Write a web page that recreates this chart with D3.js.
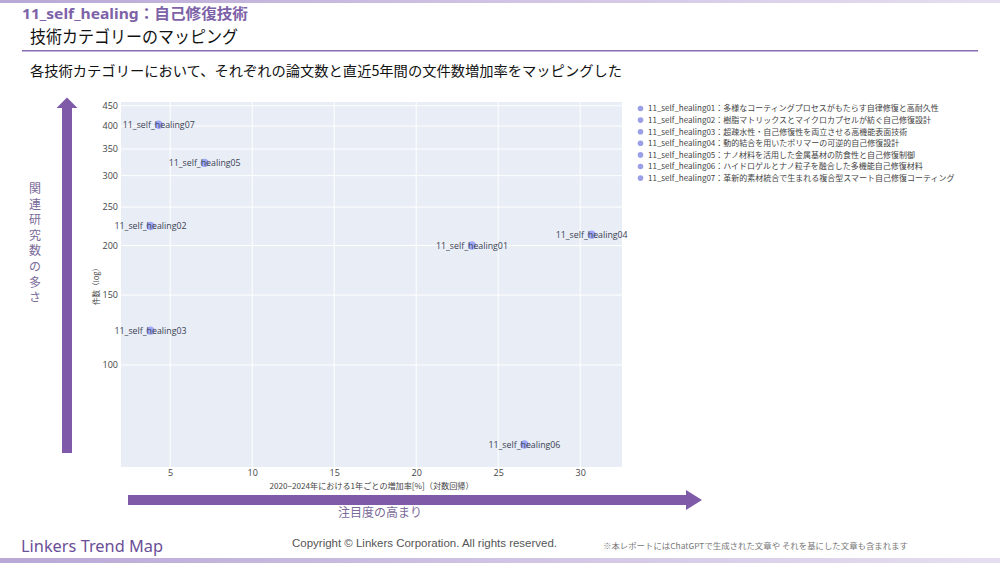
<!DOCTYPE html>
<html><head><meta charset="utf-8">
<script src="https://cdn.jsdelivr.net/npm/d3@7"></script>
<style>
html,body{margin:0;padding:0;background:#fff;}
svg{display:block;font-family:"Noto Sans CJK JP","Noto Sans",sans-serif;}
</style></head>
<body>
<svg id="c" width="1000" height="563"></svg>
<script>
// ---- data ----
const categories = ["11_self_healing01","11_self_healing02","11_self_healing03","11_self_healing04","11_self_healing05","11_self_healing06","11_self_healing07"];
const growthRate = [23.4, 3.8, 3.8, 30.7, 7.1, 26.6, 4.3];
const paperCount = [200, 224, 122, 213, 323, 63, 403];
const descriptions = [
 "多様なコーティングプロセスがもたらす自律修復と高耐久性",
 "樹脂マトリックスとマイクロカプセルが紡ぐ自己修復設計",
 "超疎水性・自己修復性を両立させる高機能表面技術",
 "動的結合を用いたポリマーの可逆的自己修復設計",
 "ナノ材料を活用した金属基材の防食性と自己修復制御",
 "ハイドロゲルとナノ粒子を融合した多機能自己修復材料",
 "革新的素材統合で生まれる複合型スマート自己修復コーティング"
];
const xTicks = [5,10,15,20,25,30];
const yTicks = [100,150,200,250,300,350,400,450];

const svg = d3.select("#c");

// header gradient bars
const defs = svg.append("defs");
const g1 = defs.append("linearGradient").attr("id","topg");
g1.append("stop").attr("offset","0%").attr("stop-color","#b9a8d6");
g1.append("stop").attr("offset","100%").attr("stop-color","#e6def0");
svg.append("rect").attr("x",0).attr("y",0).attr("width",1000).attr("height",3).attr("fill","url(#topg)");
svg.append("rect").attr("x",0).attr("y",558).attr("width",1000).attr("height",5).attr("fill","url(#topg)");

svg.append("text").attr("x",22).attr("y",19).attr("fill","#7d62a8").attr("font-size",15).attr("font-weight","bold")
  .attr("font-family","'Noto Sans','Noto Sans CJK JP',sans-serif")
  .attr("textLength",226).attr("lengthAdjust","spacingAndGlyphs").text("11_self_healing：自己修復技術");
svg.append("text").attr("x",30).attr("y",43).attr("fill","#111").attr("font-size",17.5)
  .attr("textLength",208).attr("lengthAdjust","spacingAndGlyphs").text("技術カテゴリーのマッピング");
svg.append("rect").attr("x",22).attr("y",50).attr("width",956).attr("height",1.5).attr("fill","#8a6db2");
svg.append("text").attr("x",30).attr("y",76).attr("fill","#111").attr("font-size",14)
  .attr("textLength",592).attr("lengthAdjust","spacingAndGlyphs")
  .text("各技術カテゴリーにおいて、それぞれの論文数と直近5年間の文件数増加率をマッピングした");

// plot
const L=121, R=622, T=102, B=467;
const x = d3.scaleLinear().domain([2.0,32.55]).range([L,R]);
const y = d3.scaleLog().domain([55.3,460]).range([B,T]);

svg.append("rect").attr("x",L).attr("y",T).attr("width",R-L).attr("height",B-T).attr("fill","#e8edf6");
const grid = svg.append("g").attr("stroke","#fff").attr("stroke-width",1);
grid.selectAll("line.x").data(xTicks).join("line").attr("x1",d=>x(d)).attr("x2",d=>x(d)).attr("y1",T).attr("y2",B);
grid.selectAll("line.y").data(yTicks).join("line").attr("y1",d=>y(d)).attr("y2",d=>y(d)).attr("x1",L).attr("x2",R);

const xAxis = svg.append("g").attr("transform",`translate(0,${B})`)
  .call(d3.axisBottom(x).tickValues(xTicks).tickSize(0).tickPadding(3));
const yAxis = svg.append("g").attr("transform",`translate(${L},0)`)
  .call(d3.axisLeft(y).tickValues(yTicks).tickFormat(d3.format("d")).tickSize(0).tickPadding(3));
[xAxis,yAxis].forEach(a=>{a.select(".domain").remove();
  a.selectAll("text").attr("fill","#444").attr("font-size",9).attr("font-family","'Open Sans','Noto Sans',sans-serif");});

svg.append("text").attr("transform",`translate(99,${(T+B)/2}) rotate(-90)`).attr("text-anchor","middle")
  .attr("font-size",7.5).attr("fill","#444").text("件数（log）");
svg.append("text").attr("x",(L+R)/2).attr("y",489).attr("text-anchor","middle")
  .attr("font-size",8).attr("fill","#444").attr("textLength",204).attr("lengthAdjust","spacingAndGlyphs")
  .text("2020−2024年における1年ごとの増加率[%]（対数回帰）");

const pts = categories.map((c,i)=>({c, gx:growthRate[i], n:paperCount[i]}));
svg.append("g").selectAll("circle").data(pts).join("circle")
  .attr("cx",d=>x(d.gx)).attr("cy",d=>y(d.n)).attr("r",4.2)
  .attr("fill","#636efa").attr("opacity",0.55);
svg.append("g").selectAll("text").data(pts).join("text")
  .attr("x",d=>x(d.gx)).attr("y",d=>y(d.n)).attr("dy","0.35em").attr("text-anchor","middle")
  .attr("font-size",8.8).attr("fill","#3a4252").attr("font-family","'Open Sans','Noto Sans',sans-serif")
  .text(d=>d.c);

// legend
const lg = svg.append("g");
categories.forEach((c,i)=>{
  const yy = 108.5 + i*11.6;
  lg.append("circle").attr("cx",640.5).attr("cy",yy).attr("r",2.8).attr("fill","#9a9fe6");
  lg.append("text").attr("x",648).attr("y",yy).attr("dy","0.35em").attr("font-size",8).attr("fill","#444")
    .text(c+"："+descriptions[i]);
});

// arrows
const purple="#7f5aa9";
svg.append("rect").attr("x",62).attr("y",107).attr("width",10).attr("height",346).attr("fill",purple);
svg.append("path").attr("d","M56.5,108 L67,97.5 L77.5,108 Z").attr("fill",purple);
const vt = "関連研究数の多さ".split("");
svg.append("g").selectAll("text").data(vt).join("text")
  .attr("x",35).attr("y",(d,i)=>193+i*15.6).attr("text-anchor","middle").attr("font-size",12)
  .attr("fill","#7a6a98").text(d=>d);

svg.append("rect").attr("x",128).attr("y",495).attr("width",560).attr("height",10).attr("fill",purple);
svg.append("path").attr("d","M686,490 L702,500 L686,510 Z").attr("fill",purple);
svg.append("text").attr("x",380).attr("y",517).attr("text-anchor","middle").attr("font-size",12)
  .attr("fill","#7a6a98").text("注目度の高まり");

// footer
svg.append("text").attr("x",21).attr("y",552).attr("font-size",16).attr("fill","#6a4e98")
  .attr("font-family","'Noto Sans',sans-serif").attr("textLength",142).attr("lengthAdjust","spacingAndGlyphs").text("Linkers Trend Map");
svg.append("text").attr("x",292).attr("y",547).attr("font-size",11.5).attr("fill","#555")
  .attr("font-family","'Liberation Sans',sans-serif").attr("textLength",265).attr("lengthAdjust","spacingAndGlyphs")
  .text("Copyright © Linkers Corporation. All rights reserved.");
svg.append("text").attr("x",603).attr("y",549).attr("font-size",8).attr("fill","#777")
  .attr("textLength",305).attr("lengthAdjust","spacingAndGlyphs")
  .text("※本レポートにはChatGPTで生成された文章や それを基にした文章も含まれます");
</script>
</body></html>
